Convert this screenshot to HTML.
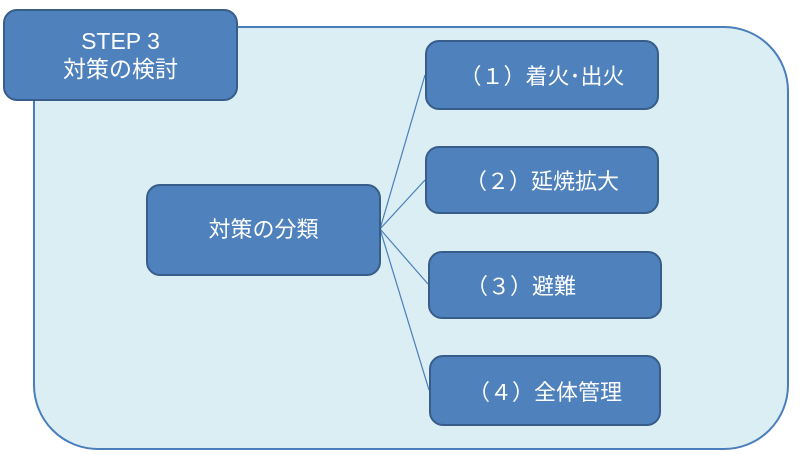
<!DOCTYPE html>
<html><head><meta charset="utf-8"><style>
html,body{margin:0;padding:0;background:#fff;}
#c{position:relative;width:800px;height:454px;overflow:hidden;font-family:"Liberation Sans","Noto Sans CJK JP",sans-serif;}
.panel{position:absolute;left:33px;top:26px;width:752px;height:420px;background:#DAEEF3;border:2px solid #4A7EBB;border-radius:65px;}
.b{position:absolute;box-sizing:border-box;background:#4F81BD;border:2px solid #385D8A;border-radius:14px;color:#fff;font-size:22px;display:flex;align-items:center;justify-content:center;text-align:center;line-height:28px;}
.j{font-family:"Noto Sans CJK JP",sans-serif;font-size:22px;}
svg{position:absolute;left:0;top:0;}
</style></head><body><div id="c">
<div class="panel"></div>
<svg width="800" height="454"><g stroke="#4A7EBB" stroke-width="1.2" fill="none">
<line x1="380" y1="229" x2="425" y2="75"/>
<line x1="380" y1="229" x2="425" y2="180"/>
<line x1="380" y1="229" x2="428" y2="284"/>
<line x1="380" y1="229" x2="429" y2="390"/>
</g></svg>
<div class="b" style="left:3px;top:9px;width:235px;height:92px;font-size:23px;">STEP 3<br>対策の検討</div>
<div class="b" style="left:146px;top:184px;width:235px;height:92px;">対策の分類</div>
<div class="b j" style="left:425px;top:40px;width:234px;height:70px;">（１）着火･出火</div>
<div class="b j" style="left:425px;top:146px;width:234px;height:68px;">（２）延焼拡大</div>
<div class="b j" style="left:428px;top:251px;width:234px;height:68px;justify-content:flex-start;padding-left:36px;">（３）避難</div>
<div class="b j" style="left:429px;top:355px;width:232px;height:71px;">（４）全体管理</div>
</div></body></html>
